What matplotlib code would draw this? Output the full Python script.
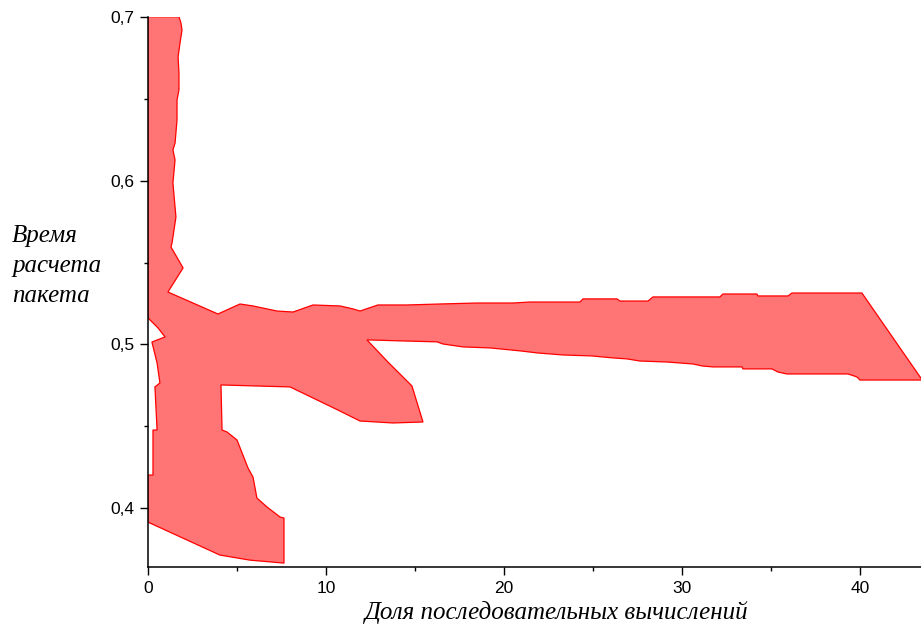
import matplotlib
matplotlib.use("Agg")
import matplotlib.pyplot as plt
from matplotlib.patches import Polygon
from matplotlib.ticker import FuncFormatter, MultipleLocator

# Граница области (доля последовательных вычислений, время расчета пакета)
region_x = [0.0, 1.74, 1.85, 1.91, 1.80, 1.69, 1.74, 1.74, 1.63, 1.63, 1.52, 1.40,
            1.52, 1.40, 1.57, 1.35, 1.29, 1.97, 1.12, 3.93, 5.17, 5.90, 7.25, 8.15,
            9.27, 10.79, 11.52, 11.91, 12.92, 14.55, 16.40, 18.48, 20.51, 21.46,
            24.27, 24.44, 26.35, 26.52, 28.09, 28.37, 32.13, 32.30, 34.21, 34.27,
            35.96, 36.18, 40.11, 43.50, 40.00, 39.83, 39.33, 35.90, 35.39, 35.06,
            33.43, 33.37, 31.74, 31.12, 30.62, 29.16, 27.64, 26.91, 26.12, 24.94,
            23.31, 21.91, 20.90, 19.21, 17.70, 16.57, 16.24, 14.16, 12.30, 13.48,
            14.83, 15.45, 13.76, 11.91, 10.67, 7.98, 6.01, 4.10, 4.16, 4.44, 5.00,
            5.62, 5.90, 6.12, 6.69, 7.42, 7.64, 7.64, 5.73, 4.04, 0.0, 0.0, 0.28,
            0.28, 0.51, 0.39, 0.67, 0.51, 0.22, 0.96, 0.56, 0.0]
region_y = [0.7000, 0.7000, 0.6962, 0.6919, 0.6840, 0.6754, 0.6656, 0.6553, 0.6492,
            0.6370, 0.6229, 0.6187, 0.6126, 0.5985, 0.5778, 0.5619, 0.5595, 0.5467,
            0.5320, 0.5186, 0.5247, 0.5235, 0.5204, 0.5198, 0.5241, 0.5235, 0.5217,
            0.5204, 0.5241, 0.5241, 0.5247, 0.5253, 0.5253, 0.5259, 0.5259, 0.5278,
            0.5278, 0.5265, 0.5265, 0.5290, 0.5290, 0.5308, 0.5308, 0.5296, 0.5296,
            0.5314, 0.5314, 0.4783, 0.4783, 0.4802, 0.4820, 0.4820, 0.4832, 0.4851,
            0.4851, 0.4863, 0.4863, 0.4869, 0.4881, 0.4893, 0.4899, 0.4912, 0.4918,
            0.4930, 0.4936, 0.4948, 0.4961, 0.4979, 0.4985, 0.5003, 0.5016, 0.5022,
            0.5028, 0.4893, 0.4747, 0.4527, 0.4521, 0.4533, 0.4600, 0.4741, 0.4747,
            0.4753, 0.4478, 0.4466, 0.4417, 0.4246, 0.4191, 0.4063, 0.4008, 0.3947,
            0.3941, 0.3666, 0.3684, 0.3715, 0.3916, 0.4203, 0.4203, 0.4478, 0.4478,
            0.4741, 0.4765, 0.4887, 0.5015, 0.5046, 0.5101, 0.5162]

x_ticks = [0, 10, 20, 30, 40]
y_ticks = [0.4, 0.5, 0.6, 0.7]
x_label = "Доля последовательных вычислений"
y_label = "Время\nрасчета\nпакета"

fig = plt.figure(figsize=(9.21, 6.32), dpi=100)
ax = fig.add_axes([148 / 921, 65.3 / 632, 773 / 921, 550 / 632])

poly = Polygon(list(zip(region_x, region_y)), closed=True,
               facecolor="#ff7474", edgecolor="#ff0000", linewidth=0.9)
ax.add_patch(poly)

ax.set_xlim(0, 43.43)
ax.set_ylim(0.3644, 0.7)

for side in ("top", "right"):
    ax.spines[side].set_visible(False)
for side in ("left", "bottom"):
    ax.spines[side].set_linewidth(1.1)
    ax.spines[side].set_zorder(3)

ax.set_xticks(x_ticks)
ax.set_yticks(y_ticks)
ax.xaxis.set_minor_locator(MultipleLocator(5))
ax.yaxis.set_minor_locator(MultipleLocator(0.05))
comma = FuncFormatter(lambda v, pos: f"{v:g}".replace(".", ","))
ax.xaxis.set_major_formatter(comma)
ax.yaxis.set_major_formatter(comma)
ax.tick_params(which="major", length=6, width=1, labelsize=12.5, pad=4)
ax.tick_params(which="minor", length=3, width=1)
for lab in ax.get_xticklabels() + ax.get_yticklabels():
    lab.set_fontfamily("Liberation Sans")

fig.text(557 / 921, 1 - 613 / 632, x_label, ha="center", va="center",
         fontsize=18, fontstyle="italic", family="Liberation Serif")
fig.text(12 / 921, 1 - 266 / 632, y_label, ha="left", va="center",
         fontsize=18, fontstyle="italic", family="Liberation Serif",
         linespacing=1.45)

fig.savefig("out.png", dpi=100)
